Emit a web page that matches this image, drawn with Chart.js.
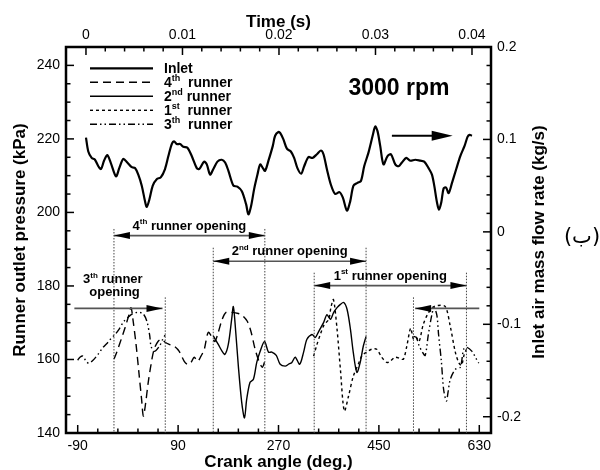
<!DOCTYPE html>
<html>
<head>
<meta charset="utf-8">
<script src="https://cdn.jsdelivr.net/npm/chart.js@4.4.1/dist/chart.umd.min.js"></script>
<style>
  html, body { margin: 0; padding: 0; background: #fff; }
</style>
</head>
<body>
<canvas id="runnerChart" width="600" height="470"></canvas>
<script>
// inlet air mass flow (top time axis, right flow axis)
const inletTime = [0, 0.00024, 0.00059, 0.00093, 0.00128, 0.00156, 0.00187, 0.00221, 0.00256, 0.00311,
  0.00345, 0.00387, 0.00428, 0.00474, 0.00508, 0.00542, 0.00578, 0.00612, 0.0063, 0.00657,
  0.00692, 0.00733, 0.00775, 0.00819, 0.00854, 0.00889, 0.00913, 0.00941, 0.00975, 0.01009,
  0.01051, 0.01096, 0.01148, 0.01175, 0.01224, 0.01252, 0.01286, 0.0132, 0.01362, 0.01407,
  0.01442, 0.01476, 0.01528, 0.01569, 0.01615, 0.01659, 0.01683, 0.01711, 0.01742, 0.01777,
  0.01805, 0.01833, 0.01856, 0.01891, 0.01936, 0.0196, 0.01994,
  0.02012, 0.02046, 0.02082, 0.02123, 0.02157, 0.02191, 0.0223, 0.02261, 0.02306, 0.02347,
  0.02393, 0.02434, 0.02461, 0.02496, 0.02538, 0.02582, 0.02627, 0.02662, 0.02704, 0.02738,
  0.02772, 0.02814, 0.02849, 0.02883, 0.02928, 0.02973, 0.02997, 0.03021, 0.03049, 0.03083,
  0.03125, 0.0316, 0.03205, 0.03239, 0.03274, 0.03319, 0.0336, 0.03412, 0.03464, 0.03505,
  0.0355, 0.03585, 0.03609, 0.03637, 0.03658, 0.03682, 0.03706, 0.03731, 0.03758, 0.03793,
  0.03837, 0.03879, 0.03923, 0.03955, 0.03975, 0.04];
const inletFlow = [0.102, 0.087, 0.080, 0.078, 0.071, 0.068, 0.077, 0.083, 0.075, 0.060,
  0.069, 0.079, 0.075, 0.070, 0.069, 0.062, 0.050, 0.033, 0.027, 0.035,
  0.050, 0.057, 0.059, 0.068, 0.082, 0.095, 0.098, 0.095, 0.095, 0.092,
  0.091, 0.082, 0.069, 0.068, 0.076, 0.073, 0.062, 0.068, 0.076, 0.078,
  0.075, 0.066, 0.050, 0.049, 0.044, 0.030, 0.019, 0.028, 0.046, 0.062,
  0.073, 0.069, 0.066, 0.077, 0.093, 0.104, 0.108,
  0.107, 0.100, 0.090, 0.087, 0.080, 0.069, 0.063, 0.071, 0.081, 0.080,
  0.084, 0.088, 0.084, 0.068, 0.051, 0.041, 0.043, 0.037, 0.023, 0.033,
  0.050, 0.053, 0.055, 0.071, 0.086, 0.105, 0.114, 0.109, 0.093, 0.073,
  0.082, 0.084, 0.073, 0.071, 0.075, 0.080, 0.077, 0.078, 0.077, 0.076,
  0.069, 0.062, 0.050, 0.032, 0.024, 0.032, 0.047, 0.048, 0.042, 0.053,
  0.068, 0.082, 0.093, 0.103, 0.105, 0.104];

// runner outlet pressures (crank angle, kPa)
const runner4Angle = [-25, -19.5, -12, -5, 2, 5.6, 9, 14.6, 20, 24.5,
  27.7, 31.6, 36, 41.5, 47, 54, 61, 66.6, 74, 83,
  92, 101, 107, 113, 119, 125, 131, 137, 144, 151,
  156, 162, 169, 176, 187, 198, 205, 214, 221, 228,
  235, 241, 245.5];
const runner4Pressure = [160.1, 162.2, 165.5, 168.7, 172.2, 174.1, 170.9, 164.1, 156.0, 149.2,
  144.6, 147.9, 153.3, 158.7, 162.8, 164.9, 165.5, 164.7, 164.1, 163.6,
  162.2, 159.5, 158.7, 159.2, 160.6, 159.5, 160.9, 162.8, 167.4, 166.0,
  164.9, 167.4, 170.9, 172.8, 172.8, 172.5, 172.0, 170.4, 167.4, 162.8,
  159.5, 157.9, 159.5];

const runner2Angle = [153, 162, 169, 174, 180, 186, 189, 192, 198, 204,
  209, 213, 219, 225, 231, 237, 245, 252, 258, 266,
  273, 282, 288, 294, 300, 308, 315, 321, 330, 336,
  342, 351, 357, 363, 369, 375, 381, 387, 393, 399,
  404, 410.5, 416.5, 422, 427];
const runner2Pressure = [166.4, 164.1, 162.2, 161.4, 164.1, 170.9, 174.4, 170.1, 158.2, 148.4,
  144.1, 149.2, 153.8, 154.6, 159.2, 162.2, 164.9, 162.0, 162.0, 161.1,
  158.7, 158.2, 158.7, 159.2, 160.6, 158.7, 162.0, 165.5, 166.8, 166.0,
  167.6, 170.1, 172.2, 170.9, 172.8, 174.1, 175.0, 175.5, 173.6, 168.2,
  162.0, 156.5, 159.2, 163.6, 166.3];

const runner1Angle = [333, 339, 345, 352, 360, 364, 368.5, 375, 381, 388,
  395.5, 404, 413, 420, 428.5, 437, 446, 455, 464, 470,
  479, 488, 494, 500, 507, 512, 517, 522, 529.5, 537,
  546, 556, 569, 578, 587, 593, 598, 603, 607];
const runner1Pressure = [160.9, 164.1, 166.8, 169.5, 170.9, 174.1, 176.3, 168.2, 157.3, 146.0,
  150.0, 155.4, 158.7, 161.1, 162.0, 162.8, 162.8, 160.6, 159.2, 159.5,
  160.6, 160.3, 160.1, 163.6, 168.5, 165.5, 166.0, 164.9, 169.5, 172.2,
  174.1, 174.7, 174.4, 169.0, 162.0, 159.2, 158.4, 161.4, 162.8];

const runner3aAngle = [-90, -86, -80.5, -75, -70, -62.6, -53.6, -44.6, -35.6, -30.3,
  -23, -16, -7, 0, 9, 18, 27, 34, 39, 41.5, 47.4, 56.4, 62.5, 66.6];
const runner3aPressure = [159.8, 160.6, 160.9, 159.5, 159.0, 159.8, 161.4, 163.3, 164.7, 165.7,
  166.8, 168.2, 170.4, 171.4, 172.5, 172.8, 172.5, 170.4, 166.6, 163.6, 162.2, 163.6, 165.5, 166.6];
const runner3bAngle = [512, 517, 522, 528, 533, 538.5, 545, 549, 554, 557,
  562, 566, 571, 574, 578, 587, 596, 602, 608, 617, 623, 629];
const runner3bPressure = [166.3, 166.0, 163.8, 162.0, 161.1, 166.6, 172.2, 174.1, 172.0, 166.8,
  159.5, 151.9, 148.7, 151.1, 154.6, 157.3, 157.9, 162.8, 163.3, 162.2, 160.6, 159.0];

// runner opening windows (crank angle) and where their arrows sit (kPa)
const openingArrows = [
  { parts: [['4', 0], ['th', 1], [' runner opening', 0]], from: -25, to: 245.5, level: 193.7, top: 195.5 },
  { parts: [['2', 0], ['nd', 1], [' runner opening', 0]], from: 153, to: 427, level: 186.7, top: 190.4 },
  { parts: [['1', 0], ['st', 1], [' runner opening', 0]], from: 334, to: 607, level: 180.1, top: 183.6 }
];

const FONT = '"Liberation Sans", Arial, sans-serif';

function pairs(xs, ys) {
  return xs.map((x, i) => ({ x: x, y: ys[i] }));
}

function steps(a, b, d) {
  const out = [];
  const n = Math.round((b - a) / d);
  for (let i = 0; i <= n; i++) out.push({ value: +(a + i * d).toFixed(6) });
  return out;
}

function isMajor(v, d) {
  return Math.abs(v / d - Math.round(v / d)) < 1e-6;
}

function richText(ctx, parts, x, y, size, align) {
  const big = 'bold ' + size + 'px ' + FONT;
  const small = 'bold ' + Math.round(size * 0.62) + 'px ' + FONT;
  let w = 0;
  parts.forEach(p => { ctx.font = p[1] ? small : big; w += ctx.measureText(p[0]).width; });
  let cx = align === 'center' ? x - w / 2 : x;
  ctx.textAlign = 'left';
  ctx.textBaseline = 'alphabetic';
  parts.forEach(p => {
    ctx.font = p[1] ? small : big;
    ctx.fillText(p[0], cx, p[1] ? y - size * 0.42 : y);
    cx += ctx.measureText(p[0]).width;
  });
}

function arrowHead(ctx, x, y, dir, len, half) {
  ctx.beginPath();
  ctx.moveTo(x, y);
  ctx.lineTo(x - dir * len, y - half);
  ctx.lineTo(x - dir * len, y + half);
  ctx.closePath();
  ctx.fill();
}

function tickMarks(ctx, scale, area, side) {
  scale.ticks.forEach(t => {
    const p = scale.getPixelForValue(t.value);
    const len = t.label ? 8 : 4.5;
    ctx.beginPath();
    if (side === 'bottom') { ctx.moveTo(p, area.bottom); ctx.lineTo(p, area.bottom - len); }
    if (side === 'top') { ctx.moveTo(p, area.top); ctx.lineTo(p, area.top + len); }
    if (side === 'left') { ctx.moveTo(area.left, p); ctx.lineTo(area.left + len, p); }
    if (side === 'right') { ctx.moveTo(area.right, p); ctx.lineTo(area.right - len, p); }
    ctx.stroke();
  });
}

const decor = {
  id: 'decor',
  afterDraw(chart) {
    const ctx = chart.ctx;
    const area = chart.chartArea;
    const sx = chart.scales.x, sy = chart.scales.y, st = chart.scales.xTime, sf = chart.scales.yFlow;
    ctx.save();
    ctx.fillStyle = '#000';
    ctx.strokeStyle = '#000';

    // frame + ticks
    ctx.lineWidth = 2.5;
    ctx.strokeRect(area.left, area.top, area.right - area.left, area.bottom - area.top);
    ctx.lineWidth = 1.5;
    tickMarks(ctx, sx, area, 'bottom');
    tickMarks(ctx, st, area, 'top');
    tickMarks(ctx, sy, area, 'left');
    tickMarks(ctx, sf, area, 'right');

    // opening windows
    ctx.save();
    ctx.beginPath();
    ctx.rect(area.left, area.top, area.right - area.left, area.bottom - area.top);
    ctx.clip();
    ctx.strokeStyle = '#444';
    ctx.lineWidth = 1;
    ctx.setLineDash([1.5, 1.5]);
    const vline = (deg, top) => {
      const px = sx.getPixelForValue(deg);
      ctx.beginPath();
      ctx.moveTo(px, sy.getPixelForValue(top));
      ctx.lineTo(px, area.bottom);
      ctx.stroke();
    };
    openingArrows.forEach(a => { vline(a.from, a.top); vline(a.to, a.top); });
    vline(67, 176.9);
    vline(512, 176.9);
    ctx.setLineDash([]);

    ctx.strokeStyle = '#555';
    ctx.lineWidth = 1.6;
    const hline = (d1, d2, lvl) => {
      const py = sy.getPixelForValue(lvl);
      ctx.beginPath();
      ctx.moveTo(sx.getPixelForValue(d1), py);
      ctx.lineTo(sx.getPixelForValue(d2), py);
      ctx.stroke();
      return py;
    };
    openingArrows.forEach(a => {
      const py = hline(a.from, a.to, a.level);
      const x1 = sx.getPixelForValue(a.from), x2 = sx.getPixelForValue(a.to);
      arrowHead(ctx, x1, py, -1, 16, 3.5);
      arrowHead(ctx, x2, py, 1, 16, 3.5);
      richText(ctx, a.parts, (x1 + x2) / 2, py - 6, 13, 'center');
    });
    let py = hline(-96, 62, 173.9);
    arrowHead(ctx, sx.getPixelForValue(62), py, 1, 16, 3.5);
    py = hline(630, 515, 173.9);
    arrowHead(ctx, sx.getPixelForValue(515), py, -1, 16, 3.5);
    richText(ctx, [['3', 0], ['th', 1], [' runner', 0]], sx.getPixelForValue(-27), sy.getPixelForValue(180.8), 13, 'center');
    richText(ctx, [['opening', 0]], sx.getPixelForValue(-24), sy.getPixelForValue(177.3), 13, 'center');

    // flow direction arrow
    ctx.strokeStyle = '#000';
    ctx.lineWidth = 2.2;
    const ay = sf.getPixelForValue(0.104);
    const ax1 = st.getPixelForValue(0.0317), ax2 = st.getPixelForValue(0.0380);
    ctx.beginPath();
    ctx.moveTo(ax1, ay);
    ctx.lineTo(ax2 - 10, ay);
    ctx.stroke();
    arrowHead(ctx, ax2, ay, 1, 21, 5);
    ctx.restore();

    // speed label
    ctx.font = 'bold 23px ' + FONT;
    ctx.textAlign = 'center';
    ctx.textBaseline = 'alphabetic';
    ctx.fillText('3000 rpm', sx.getPixelForValue(486), sy.getPixelForValue(231.9));

    // legend
    const lx = area.left + 24, lw = 63, tx = area.left + 98;
    chart.data.datasets.forEach((ds, i) => {
      const yMid = area.top + 21.3 + i * 14;
      ctx.strokeStyle = '#000';
      ctx.lineWidth = ds.borderWidth;
      ctx.setLineDash(ds.borderDash || []);
      ctx.beginPath();
      ctx.moveTo(lx, yMid);
      ctx.lineTo(lx + lw, yMid);
      ctx.stroke();
      ctx.setLineDash([]);
      richText(ctx, ds.legendParts, tx, yMid + 5, 14, 'left');
    });

    // axis titles
    ctx.font = 'bold 17px ' + FONT;
    ctx.textAlign = 'center';
    ctx.textBaseline = 'alphabetic';
    const cxm = (area.left + area.right) / 2;
    ctx.fillText('Time (s)', cxm, 27);
    ctx.fillText('Crank angle (deg.)', cxm, 467);
    ctx.textBaseline = 'middle';
    ctx.save();
    ctx.translate(20, 240);
    ctx.rotate(-Math.PI / 2);
    ctx.fillText('Runner outlet pressure (kPa)', 0, 0);
    ctx.restore();
    ctx.save();
    ctx.translate(539, 242);
    ctx.rotate(-Math.PI / 2);
    ctx.fillText('Inlet air mass flow rate (kg/s)', 0, 0);
    ctx.restore();

    // figure tag
    ctx.font = '21px "DejaVu Sans", sans-serif';
    ctx.fillText('(ب)', 582, 238);
    ctx.restore();
  }
};

const tickFont = { family: 'Liberation Sans', size: 14 };

new Chart(document.getElementById('runnerChart'), {
  type: 'line',
  data: {
    datasets: [
      { label: 'Inlet', legendParts: [['Inlet', 0]], data: pairs(inletTime, inletFlow), xAxisID: 'xTime', yAxisID: 'yFlow',
        borderColor: '#000', borderWidth: 2.2, tension: 0.3, pointRadius: 0 },
      { label: '4th runner', legendParts: [['4', 0], ['th', 1], ['  runner', 0]], data: pairs(runner4Angle, runner4Pressure), xAxisID: 'x', yAxisID: 'y',
        borderColor: '#000', borderWidth: 1.4, borderDash: [8, 5], tension: 0.3, pointRadius: 0 },
      { label: '2nd runner', legendParts: [['2', 0], ['nd', 1], [' runner', 0]], data: pairs(runner2Angle, runner2Pressure), xAxisID: 'x', yAxisID: 'y',
        borderColor: '#000', borderWidth: 1.4, tension: 0.3, pointRadius: 0 },
      { label: '1st runner', legendParts: [['1', 0], ['st', 1], ['  runner', 0]], data: pairs(runner1Angle, runner1Pressure), xAxisID: 'x', yAxisID: 'y',
        borderColor: '#000', borderWidth: 1.4, borderDash: [3, 3], tension: 0.3, pointRadius: 0 },
      { label: '3th runner', legendParts: [['3', 0], ['th', 1], ['  runner', 0]],
        data: pairs(runner3aAngle, runner3aPressure).concat([{ x: 300, y: null }], pairs(runner3bAngle, runner3bPressure)),
        xAxisID: 'x', yAxisID: 'y', spanGaps: false,
        borderColor: '#000', borderWidth: 1.4, borderDash: [7, 3, 1.5, 3, 1.5, 3], tension: 0.3, pointRadius: 0 }
    ]
  },
  options: {
    responsive: false,
    animation: false,
    layout: { padding: 0 },
    plugins: { legend: { display: false }, tooltip: { enabled: false } },
    scales: {
      x: {
        type: 'linear', position: 'bottom', min: -111, max: 651,
        grid: { display: false, drawTicks: false }, border: { display: false },
        afterBuildTicks: s => { s.ticks = steps(-90, 630, 36); },
        afterFit: s => { s.height = 37; },
        ticks: { autoSkip: false, maxRotation: 0, padding: 5, color: '#000', font: tickFont,
          callback: v => ((v + 90) % 180 === 0 ? String(v) : '') }
      },
      xTime: {
        type: 'linear', position: 'top', min: -0.00207, max: 0.04197,
        grid: { display: false, drawTicks: false }, border: { display: false },
        afterBuildTicks: s => { s.ticks = steps(0, 0.04, 0.002); },
        afterFit: s => { s.height = 47; },
        ticks: { autoSkip: false, maxRotation: 0, padding: 3, color: '#000', font: tickFont,
          callback: v => (isMajor(v, 0.01) ? String(+v.toFixed(2)) : '') }
      },
      y: {
        type: 'linear', position: 'left', min: 140, max: 245,
        grid: { display: false, drawTicks: false }, border: { display: false },
        afterBuildTicks: s => { s.ticks = steps(140, 245, 5); },
        afterFit: s => { s.width = 66; },
        ticks: { autoSkip: false, padding: 6, color: '#000', font: tickFont,
          callback: v => (v % 20 === 0 ? String(v) : '') }
      },
      yFlow: {
        type: 'linear', position: 'right', min: -0.2176, max: 0.2,
        grid: { display: false, drawTicks: false }, border: { display: false },
        afterBuildTicks: s => { s.ticks = steps(-0.2, 0.2, 0.02); },
        afterFit: s => { s.width = 109; },
        ticks: { autoSkip: false, padding: 6, color: '#000', font: tickFont,
          callback: v => (isMajor(v, 0.1) ? String(+v.toFixed(1)) : '') }
      }
    }
  },
  plugins: [decor]
});
</script>
</body>
</html>
